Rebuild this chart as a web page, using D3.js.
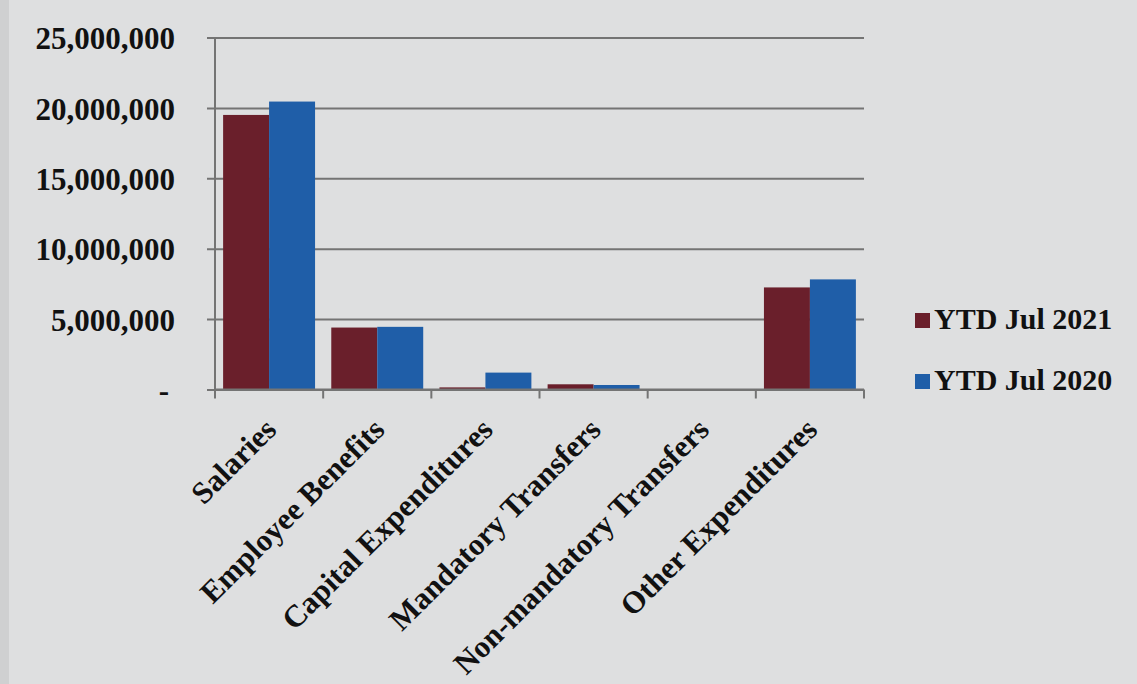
<!DOCTYPE html>
<html>
<head>
<meta charset="utf-8">
<script src="https://cdn.jsdelivr.net/npm/d3@7/dist/d3.min.js"></script>
<style>
  html, body { margin: 0; padding: 0; background: #dedfe0; }
  svg { display: block; }
  text { font-family: "Liberation Serif", "Times New Roman", serif; font-weight: bold; fill: #111; }
</style>
</head>
<body>
<svg id="chart" width="1137" height="684"></svg>
<script>
const categories = ["Salaries", "Employee Benefits", "Capital Expenditures", "Mandatory Transfers", "Non-mandatory Transfers", "Other Expenditures"];
const seriesNames = ["YTD Jul 2021", "YTD Jul 2020"];
const ytd2021 = [19500000, 4400000, 150000, 370000, 0, 7250000];
const ytd2020 = [20450000, 4450000, 1200000, 320000, 0, 7820000];
const yTicks = [0, 5000000, 10000000, 15000000, 20000000, 25000000];
const colors = ["#6a1f2b", "#1f5ea8"];

(function () {
const svg = d3.select("#chart");
const W = 1137, H = 684;

svg.append("rect").attr("width", W).attr("height", H).attr("fill", "#dedfe0");
svg.append("rect").attr("width", 9).attr("height", H).attr("fill", "#cfd0d1");

const pLeft = 215, pRight = 864, pTop = 37.5, pBottom = 389.5;

const x = d3.scaleBand().domain(categories).range([pLeft, pRight]).paddingInner(0.15).paddingOuter(0.075);
const xs = d3.scaleBand().domain(seriesNames).range([0, x.bandwidth()]);
const y = d3.scaleLinear().domain([0, 25000000]).range([pBottom, pTop]);

const yAxis = d3.axisLeft(y).tickValues(yTicks)
  .tickSize(-(pRight - pLeft))
  .tickPadding(40)
  .tickFormat(d => d === 0 ? "-" : d3.format(",")(d));
const gy = svg.append("g").attr("transform", `translate(${pLeft},0)`).call(yAxis);
gy.select(".domain").remove();
gy.selectAll(".tick line").attr("stroke", "#747474").attr("stroke-width", 2).attr("x1", -8);
gy.selectAll(".tick text").style("font-size", "31px").attr("fill", "#111").attr("dy", "0.36em");
gy.selectAll(".tick").filter(d => d === 0).select("text").attr("dx", -6);

const data = categories.map((c, i) => ({cat: c, vals: [ytd2021[i], ytd2020[i]]}));
const groups = svg.append("g").selectAll("g").data(data).join("g")
  .attr("transform", d => `translate(${x(d.cat)},0)`);
groups.selectAll("rect").data(d => d.vals.map((v, j) => ({v, s: seriesNames[j], j})))
  .join("rect")
  .attr("x", d => xs(d.s))
  .attr("width", xs.bandwidth())
  .attr("y", d => y(d.v))
  .attr("height", d => pBottom - y(d.v))
  .attr("fill", d => colors[d.j]);

const xAxisG = svg.append("g");
xAxisG.append("line").attr("x1", pLeft).attr("x2", pRight).attr("y1", pBottom).attr("y2", pBottom)
  .attr("stroke", "#747474").attr("stroke-width", 2);
xAxisG.append("line").attr("x1", pLeft).attr("x2", pLeft).attr("y1", pTop).attr("y2", pBottom + 8)
  .attr("stroke", "#747474").attr("stroke-width", 2);
const boundaries = d3.range(categories.length + 1).map(i => pLeft + i * (pRight - pLeft) / categories.length);
xAxisG.selectAll("line.tk").data(boundaries).join("line").attr("class", "tk")
  .attr("x1", d => d).attr("x2", d => d).attr("y1", pBottom).attr("y2", pBottom + 9)
  .attr("stroke", "#747474").attr("stroke-width", 2);

svg.append("g").selectAll("text").data(categories).join("text")
  .attr("transform", d => `translate(${x(d) + x.bandwidth() / 2 + 9},${pBottom + 42}) rotate(-45)`)
  .attr("text-anchor", "end")
  .style("font-size", "31px")
  .text(d => d);

const legend = svg.append("g");
seriesNames.forEach((s, i) => {
  const yy = 329 + i * 61;
  legend.append("rect").attr("x", 915).attr("y", yy - 16).attr("width", 15).attr("height", 15).attr("fill", colors[i]);
  legend.append("text").attr("x", 934).attr("y", yy).style("font-size", "30px").text(s);
});
})();
</script>
</body>
</html>
